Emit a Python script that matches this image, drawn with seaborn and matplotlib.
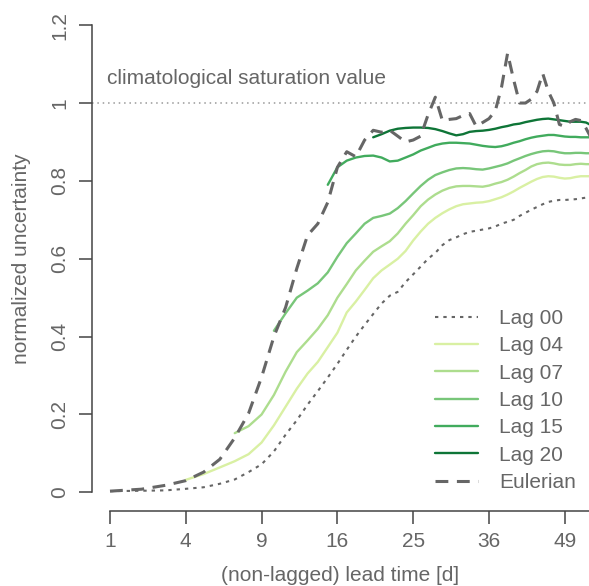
import numpy as np
import pandas as pd
import matplotlib
matplotlib.use("Agg")
import matplotlib.pyplot as plt
import seaborn as sns

# ---------------- data ----------------
lead_days = list(range(1, 55))

eulerian = [0.003, 0.008, 0.018, 0.030, 0.052, 0.085, 0.140, 0.203, 0.296, 0.400,
            0.475, 0.575, 0.660, 0.690, 0.745, 0.835, 0.875, 0.862, 0.905, 0.930,
            0.925, 0.930, 0.915, 0.900, 0.905, 0.915, 0.970, 1.015, 0.955, 0.958,
            0.960, 0.968, 0.973, 0.940, 0.950, 0.960, 0.980, 1.040, 1.128, 1.060,
            1.000, 1.000, 1.010, 1.030, 1.076, 1.030, 1.000, 0.945, 0.940, 0.952,
            0.958, 0.955, 0.935, 0.910]

lag00 = [0.003, 0.004, 0.005, 0.009, 0.013, 0.022, 0.033, 0.052, 0.072, 0.105,
         0.148, 0.185, 0.225, 0.260, 0.295, 0.330, 0.366, 0.400, 0.430, 0.458,
         0.485, 0.505, 0.515, 0.540, 0.560, 0.580, 0.600, 0.615, 0.635, 0.648,
         0.655, 0.663, 0.669, 0.672, 0.675, 0.678, 0.683, 0.690, 0.695, 0.700,
         0.710, 0.718, 0.726, 0.733, 0.740, 0.746, 0.749, 0.751, 0.751, 0.752,
         0.753, 0.755, 0.757, 0.758]

lag04 = [0.032, 0.047, 0.064, 0.080, 0.098, 0.128, 0.172, 0.220, 0.266, 0.305,
         0.335, 0.373, 0.410, 0.462, 0.490, 0.520, 0.550, 0.570, 0.585, 0.600,
         0.620, 0.647, 0.670, 0.690, 0.705, 0.717, 0.727, 0.735, 0.740, 0.742,
         0.744, 0.745, 0.748, 0.753, 0.758, 0.765, 0.773, 0.782, 0.790, 0.798,
         0.805, 0.810, 0.812, 0.811, 0.808, 0.806, 0.807, 0.810, 0.812, 0.812,
         0.812]

lag07 = [0.152, 0.170, 0.200, 0.250, 0.310, 0.360, 0.390, 0.420, 0.455, 0.500,
         0.535, 0.570, 0.595, 0.618, 0.632, 0.645, 0.665, 0.690, 0.712, 0.735,
         0.752, 0.765, 0.775, 0.782, 0.786, 0.787, 0.787, 0.786, 0.785, 0.788,
         0.793, 0.797, 0.803, 0.811, 0.820, 0.828, 0.837, 0.843, 0.846, 0.847,
         0.845, 0.842, 0.841, 0.841, 0.843, 0.844, 0.843, 0.843]

lag10 = [0.415, 0.460, 0.500, 0.518, 0.537, 0.565, 0.605, 0.640, 0.665, 0.690,
         0.705, 0.710, 0.716, 0.730, 0.748, 0.768, 0.787, 0.803, 0.815, 0.822,
         0.828, 0.832, 0.833, 0.832, 0.830, 0.829, 0.832, 0.836, 0.840, 0.845,
         0.852, 0.858, 0.864, 0.869, 0.873, 0.876, 0.877, 0.876, 0.873, 0.871,
         0.871, 0.872, 0.872, 0.871, 0.871]

lag15 = [0.790, 0.835, 0.852, 0.860, 0.864, 0.865, 0.860, 0.850, 0.852, 0.860,
         0.868, 0.878, 0.885, 0.892, 0.896, 0.898, 0.898, 0.897, 0.896, 0.893,
         0.890, 0.888, 0.887, 0.889, 0.893, 0.898, 0.902, 0.907, 0.911, 0.914,
         0.916, 0.918, 0.918, 0.916, 0.914, 0.913, 0.913, 0.912, 0.912, 0.912]

lag20 = [0.912, 0.920, 0.929, 0.934, 0.936, 0.937, 0.937, 0.936, 0.933, 0.928,
         0.922, 0.917, 0.920, 0.926, 0.928, 0.929, 0.931, 0.934, 0.938, 0.941,
         0.945, 0.947, 0.951, 0.954, 0.957, 0.959, 0.960, 0.958, 0.956, 0.954,
         0.952, 0.952, 0.952, 0.950, 0.943]

lag_series = [("Lag 00", 1, lag00), ("Lag 04", 4, lag04), ("Lag 07", 7, lag07),
              ("Lag 10", 10, lag10), ("Lag 15", 15, lag15), ("Lag 20", 20, lag20)]

x_ticks = [1, 4, 9, 16, 25, 36, 49]
y_ticks = [0, 0.2, 0.4, 0.6, 0.8, 1.0, 1.2]
y_ticklabels = ["0", "0.2", "0.4", "0.6", "0.8", "1", "1.2"]

# ---------------- style ----------------
sns.set_style("white")
plt.rcParams["font.family"] = ["Liberation Sans", "DejaVu Sans"]
TXT = "#666666"
AX = "#444444"
FS = 15

colors = {"Lag 00": "#666666", "Lag 04": "#d9f0a3", "Lag 07": "#addd8e",
          "Lag 10": "#78c679", "Lag 15": "#41ab5d", "Lag 20": "#0e7537"}

fig = plt.figure(figsize=(5.89, 5.86), dpi=100)
ax = fig.add_axes([92 / 589, (586 - 511) / 586, (589 - 92) / 589, (511 - 6.5) / 586])
ax.set_xscale("function", functions=(lambda v: np.sqrt(np.clip(v, 0, None)), np.square))

# climatological saturation line
ax.axhline(1.0, color="#999999", lw=1.1, ls=(0, (1, 2.5)), zorder=1)
ax.text(0.93, 1.062, "climatological saturation value", color=TXT, fontsize=FS,
        ha="left", va="center")

for name, start, vals in lag_series:
    df = pd.DataFrame({"lead": lead_days[start - 1:start - 1 + len(vals)], "u": vals})
    if name == "Lag 00":
        sns.lineplot(data=df, x="lead", y="u", ax=ax, color=colors[name], lw=1.5,
                     linestyle=(0, (1.6, 2.4)), label=name, zorder=3)
    else:
        sns.lineplot(data=df, x="lead", y="u", ax=ax, color=colors[name], lw=1.7,
                     label=name, zorder=3)

dfe = pd.DataFrame({"lead": lead_days, "u": eulerian})
sns.lineplot(data=dfe, x="lead", y="u", ax=ax, color="#666666", lw=2.2,
             linestyle=(0, (4.2, 2.8)), label="Eulerian", zorder=4)

ax.set_xlim(0.7625 ** 2, 7.319 ** 2)
ax.set_ylim(-0.048, 1.248)

ax.set_xticks(x_ticks)
ax.set_xticklabels([str(t) for t in x_ticks])
ax.set_yticks(y_ticks)
ax.set_yticklabels(y_ticklabels, rotation=90, va="center")
ax.minorticks_off()

for s in ["top", "right"]:
    ax.spines[s].set_visible(False)
ax.spines["left"].set_bounds(0, 1.2)
ax.spines["bottom"].set_bounds(1, 7.4 ** 2)
for s in ["left", "bottom"]:
    ax.spines[s].set_color(AX)
    ax.spines[s].set_linewidth(1.1)

ax.tick_params(axis="both", which="major", direction="out", length=9.3, width=1.1,
               color=AX, labelcolor=TXT, labelsize=FS, left=True, bottom=True)
ax.tick_params(axis="y", pad=7)
ax.tick_params(axis="x", pad=6)

ax.set_xlabel("(non-lagged) lead time [d]", color=TXT, fontsize=FS, labelpad=10.5)
ax.set_ylabel("normalized uncertainty", color=TXT, fontsize=FS, labelpad=14)

leg = ax.legend(loc="upper left", bbox_to_anchor=(435 / 589, 1 - 309 / 586),
                bbox_transform=fig.transFigure, frameon=False, fontsize=FS,
                handlelength=2.07, handletextpad=1.0, labelspacing=0.40,
                borderpad=0, borderaxespad=0)
for t in leg.get_texts():
    t.set_color(TXT)

fig.savefig("out.png", dpi=100)
